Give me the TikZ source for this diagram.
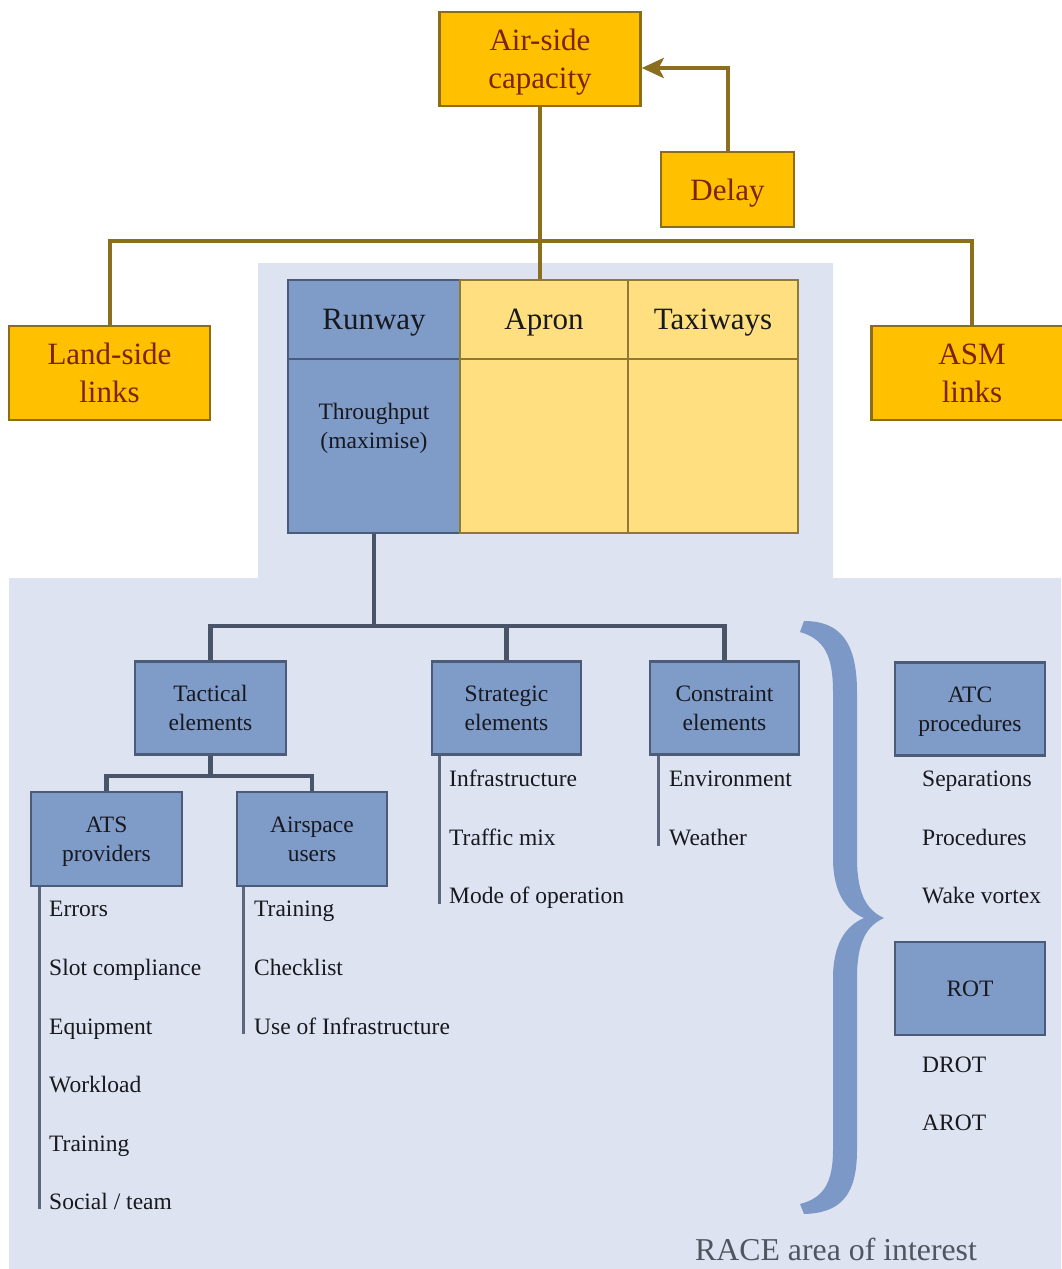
\documentclass[tikz,border=0pt]{standalone}
\usepackage{fontspec}
\setmainfont{Liberation Serif}
\usetikzlibrary{arrows.meta}

\definecolor{bandblue}{HTML}{DDE3F0}
\definecolor{boxblue}{HTML}{7F9BC8}
\definecolor{boxblueedge}{HTML}{4B5B78}
\definecolor{linkblue}{HTML}{4A5468}
\definecolor{listgray}{HTML}{5C677D}
\definecolor{amber}{HTML}{FFC000}
\definecolor{amberedge}{HTML}{8C6D14}
\definecolor{olivelink}{HTML}{8B6F1E}
\definecolor{paleyellow}{HTML}{FFDF7F}
\definecolor{paleedge}{HTML}{8F7A35}
\definecolor{rust}{HTML}{7E2200}
\definecolor{inkdark}{HTML}{18181F}
\definecolor{racegray}{HTML}{50555F}
\definecolor{braceblue}{HTML}{7B98C6}

\tikzset{
  bigfont/.style={font=\fontsize{31}{38}\selectfont},
  smallfont/.style={font=\fontsize{23.5}{29}\selectfont},
  amberbox/.style={draw=amberedge, fill=amber, line width=2.5pt,
    minimum width=201pt, minimum height=94pt, inner sep=0pt,
    align=center, text=rust, bigfont, text depth=0pt},
  bluebox/.style={draw=boxblueedge, fill=boxblue, line width=2.5pt,
    minimum width=150pt, minimum height=93pt, inner sep=0pt,
    align=center, text=inkdark, smallfont, text depth=0pt},
  runcell/.style={draw=boxblueedge, fill=boxblue, line width=2.5pt,
    inner sep=0pt, text=inkdark, bigfont, text depth=0pt},
  palecell/.style={draw=paleedge, fill=paleyellow, line width=2.5pt,
    inner sep=0pt, text=inkdark, bigfont, text depth=0pt},
  item/.style={anchor=west, inner sep=0pt, text=inkdark, smallfont,
    text height=19pt, text depth=2pt},
  amberlink/.style={draw=olivelink, line width=4pt},
  bluelink/.style={draw=linkblue, line width=4.5pt},
  listrule/.style={draw=listgray, line width=3pt},
}

\begin{document}
\begin{tikzpicture}[x=1pt, y=-1pt]
\useasboundingbox (0,0) rectangle (1061,1269);
\fill[white] (0,0) rectangle (1061,1269);

% shaded area of interest
\fill[bandblue] (258,263) -- (833,263) -- (833,578) -- (1061,578)
  -- (1061,1269) -- (9,1269) -- (9,578) -- (258,578) -- cycle;

% top level: capacity and its links
\node[amberbox] (airside) at (540,59) {Air-side\\capacity};
\node[amberbox, minimum width=133pt, minimum height=75pt] (delay) at (727.5,189.5) {Delay};
\node[amberbox] (landside) at (109.5,373) {Land-side\\links};
\node[amberbox] (asm) at (972,373) {ASM\\links};
\coordinate (bus) at (540,241);

% airport elements table
\node[runcell, minimum width=172pt, minimum height=79pt] (runway) at (374,319.5) {Runway};
\node[palecell, minimum width=168pt, minimum height=79pt] (apron) at (544,319.5) {Apron};
\node[palecell, minimum width=170pt, minimum height=79pt] (taxiways) at (713,319.5) {Taxiways};
\node[runcell, minimum width=172pt, minimum height=174pt] (runbody) at (374,446) {};
\node[palecell, minimum width=168pt, minimum height=174pt] (apronbody) at (544,446) {};
\node[palecell, minimum width=170pt, minimum height=174pt] (taxibody) at (713,446) {};
\node[smallfont, align=center, text=inkdark, inner sep=0pt] (thru) at (374,428.5) {Throughput\\(maximise)};

\draw[amberlink] (landside.north) |- (bus) -| (asm.north);
\draw[amberlink] (airside.south) -- (airside.south |- apron.north);
\draw[amberlink, -{Stealth[length=22pt, width=20pt, inset=5pt]}]
  (delay.north) |- ([yshift=-9pt]airside.east);

% element groups
\node[bluebox, minimum width=151pt] (tactical) at (210.5,708) {Tactical\\elements};
\node[bluebox, minimum width=149pt] (strategic) at (506.5,708) {Strategic\\elements};
\node[bluebox, minimum width=149pt] (constraint) at (724.5,708) {Constraint\\elements};
\node[bluebox, minimum width=151pt, minimum height=94pt] (ats) at (106.5,839) {ATS\\providers};
\node[bluebox, minimum width=150pt, minimum height=94pt] (airspace) at (312,839) {Airspace\\users};
\coordinate (bus2) at (374,626);
\coordinate (bus3) at (210.5,776);

\draw[bluelink] (runbody.south) -- (bus2);
\draw[bluelink] (tactical.north) |- (bus2) -| (constraint.north);
\draw[bluelink] (strategic.north) -- (strategic.north |- bus2);
\draw[bluelink] (tactical.south) -- (bus3);
\draw[bluelink] (ats.north) |- (bus3) -| (airspace.north);

% ATS providers items
\draw[listrule] ([xshift=10pt]ats.south west) -- ++(0,322);
\node[item] (e1) at (49,908) {Errors};
\node[item] (e2) at (49,967) {Slot compliance};
\node[item] (e3) at (49,1025.5) {Equipment};
\node[item] (e4) at (49,1084) {Workload};
\node[item] (e5) at (49,1143) {Training};
\node[item] (e6) at (49,1201) {Social / team};

% airspace users items
\draw[listrule] ([xshift=8pt]airspace.south west) -- ++(0,147);
\node[item] (u1) at (254,908) {Training};
\node[item] (u2) at (254,967) {Checklist};
\node[item] (u3) at (254,1025.5) {Use of Infrastructure};

% strategic items
\draw[listrule] ([xshift=9pt]strategic.south west) -- ++(0,148);
\node[item] (s1) at (449,778) {Infrastructure};
\node[item] (s2) at (449,837) {Traffic mix};
\node[item] (s3) at (449,895) {Mode of operation};

% constraint items
\draw[listrule] ([xshift=10pt]constraint.south west) -- ++(0,90);
\node[item] (c1) at (669,778) {Environment};
\node[item] (c2) at (669,837) {Weather};

% curly brace
\fill[braceblue]
  (804,621) .. controls (840,621) and (857,642) .. (857,692)
  -- (857,858) .. controls (857,893) and (866,910) .. (884,918)
  .. controls (866,926) and (857,943) .. (857,978)
  -- (857,1150) .. controls (857,1196) and (840,1213) .. (804,1214)
  -- (800,1204) .. controls (824,1198) and (833,1182) .. (833,1150)
  -- (833,978) .. controls (833,945) and (845,926) .. (864,918)
  .. controls (845,910) and (833,891) .. (833,858)
  -- (833,692) .. controls (833,655) and (824,639) .. (800,632) -- cycle;

% runway occupancy factors
\node[bluebox] (atc) at (970,709) {ATC\\procedures};
\node[item] (a1) at (922,778) {Separations};
\node[item] (a2) at (922,837) {Procedures};
\node[item] (a3) at (922,895) {Wake vortex};
\node[bluebox] (rot) at (970,988.5) {ROT};
\node[item] (r1) at (922,1064) {DROT};
\node[item] (r2) at (922,1122) {AROT};

\node[anchor=west, inner sep=0pt, text=racegray, font=\fontsize{31.8}{36}\selectfont] (race) at (695,1249) {RACE area of interest};
\end{tikzpicture}
\end{document}
